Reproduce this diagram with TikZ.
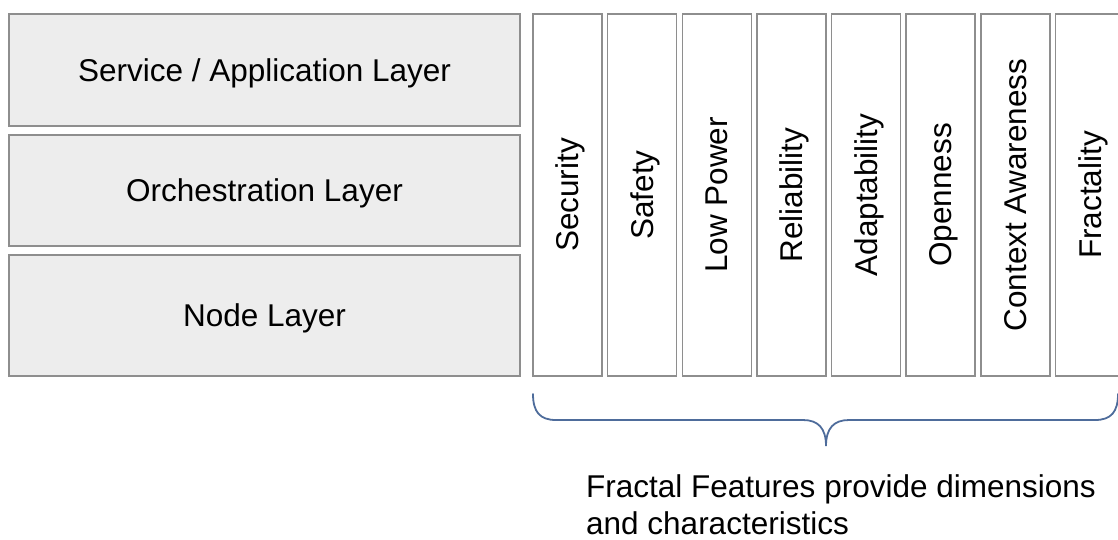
\documentclass[tikz,border=0pt]{standalone}
\usepackage{fontspec}
\setmainfont{Liberation Sans}
\definecolor{edgegray}{HTML}{8E8E8E}
\definecolor{layerfill}{HTML}{EDEDED}
\definecolor{bracecol}{HTML}{4E6C9B}
\tikzset{
  layerbox/.style={draw=edgegray, fill=layerfill, line width=1.5pt,
    minimum width=511pt, inner sep=0pt, text depth=0pt,
    font=\fontsize{31.5}{36}\selectfont},
  featbox/.style={draw=edgegray, fill=white, line width=1.5pt,
    minimum width=69pt, minimum height=362pt, inner sep=0pt},
  feattext/.style={rotate=90, inner sep=0pt, text depth=0pt,
    font=\fontsize{31.5}{36}\selectfont},
  notetext/.style={anchor=base west, inner sep=0pt,
    font=\fontsize{31.5}{36}\selectfont},
  bracepath/.style={draw=bracecol, line width=1.8pt, line cap=round}
}
\begin{document}
\begin{tikzpicture}[x=1pt, y=-1pt]
  \useasboundingbox (0,0) rectangle (1118,539);
  \clip (0,0) rectangle (1118,539);

  % stacked layers on the left
  \node[layerbox, minimum height=112pt] (svc)  at (264.5,70)    {Service / Application Layer};
  \node[layerbox, minimum height=111pt] (orch) at (264.5,190.5) {Orchestration Layer};
  \node[layerbox, minimum height=121pt] (nodel) at (264.5,315.5) {Node Layer};

  % vertical feature columns
  \foreach \i/\name/\label in {0/sec/Security, 1/saf/Safety, 2/lowp/Low Power,
      3/rel/Reliability, 4/adp/Adaptability, 5/opn/Openness,
      6/ctx/Context Awareness, 7/frc/Fractality} {
    \node[featbox] (\name) at ({567.5+74.64*\i},195) {};
    \node[feattext] (\name-t) at (\name.center) {\label};
  }

  % brace under the feature columns
  \coordinate (bl) at (533,394);
  \coordinate (br) at (1118,394);
  \coordinate (tip) at (826,446);
  \draw[bracepath] (bl) .. controls (533,412) and (540,420) .. (556,420)
    -- (803,420) .. controls (818,420) and (826,428) .. (tip)
    .. controls (826,428) and (834,420) .. (849,420)
    -- (1095,420) .. controls (1111,420) and (1118,412) .. (br);

  % caption below the brace
  \node[notetext] (note1) at (586,497) {Fractal Features provide dimensions};
  \node[notetext] (note2) at (586,534) {and characteristics};
\end{tikzpicture}
\end{document}
